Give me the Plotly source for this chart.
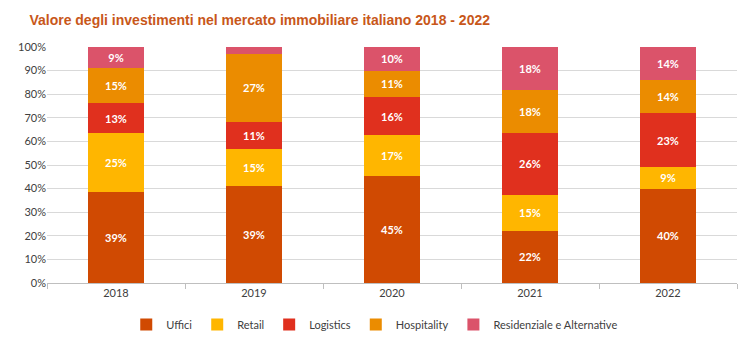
import plotly.graph_objects as go

years = ["2018", "2019", "2020", "2021", "2022"]
uffici = [39, 39, 45, 22, 40]
retail = [25, 15, 17, 15, 9]
logistics = [13, 11, 16, 26, 23]
hospitality = [15, 27, 11, 18, 14]
residenziale = [9, 3, 10, 18, 14]

series = [
    ("Uffici", uffici, "#D04A02"),
    ("Retail", retail, "#FFB600"),
    ("Logistics", logistics, "#E0301E"),
    ("Hospitality", hospitality, "#EB8C00"),
    ("Residenziale e Alternative", residenziale, "#DB536A"),
]

fig = go.Figure()
for name, vals, col in series:
    fig.add_trace(go.Bar(
        x=years, y=vals, name=name, marker_color=col, marker_line_width=0,
        text=[f"{v}%" if v >= 5 else "" for v in vals],
        textposition="inside", insidetextanchor="middle", textangle=0,
        textfont=dict(color="white", size=11, family="Lato", weight="bold"),
        hoverinfo="x+y+name",
    ))

fig.update_layout(
    barmode="stack", barnorm="percent", bargap=0.59,
    width=754, height=351,
    margin=dict(l=47, r=17, t=47, b=65),
    paper_bgcolor="white", plot_bgcolor="white",
    title=dict(text="<b>Valore degli investimenti nel mercato immobiliare italiano 2018 - 2022</b>",
               x=0.039, xanchor="left", y=1 - 20 / 351, yanchor="middle", yref="container",
               font=dict(family="Liberation Sans", size=14, color="#C8571A")),
    font=dict(family="Lato", size=11, color="#404040"),
    legend=dict(orientation="h", x=0.475, xanchor="center", y=-0.176, yanchor="middle",
                font=dict(size=11, color="#404040"), itemwidth=30, traceorder="normal"),
    uniformtext=dict(minsize=8, mode="show"),
)
fig.update_xaxes(type="category", showline=True, linecolor="#BFBFBF", ticks="outside",
                 tickson="boundaries", ticklen=5, tickcolor="#BFBFBF", showgrid=False,
                 tickfont=dict(size=11, color="#404040"))
fig.update_yaxes(range=[0, 100], dtick=10, ticksuffix="%", showgrid=True, gridcolor="#D9D9D9",
                 zeroline=False, tickfont=dict(size=11, color="#404040"), ticks="")

fig.write_html("out.html")
